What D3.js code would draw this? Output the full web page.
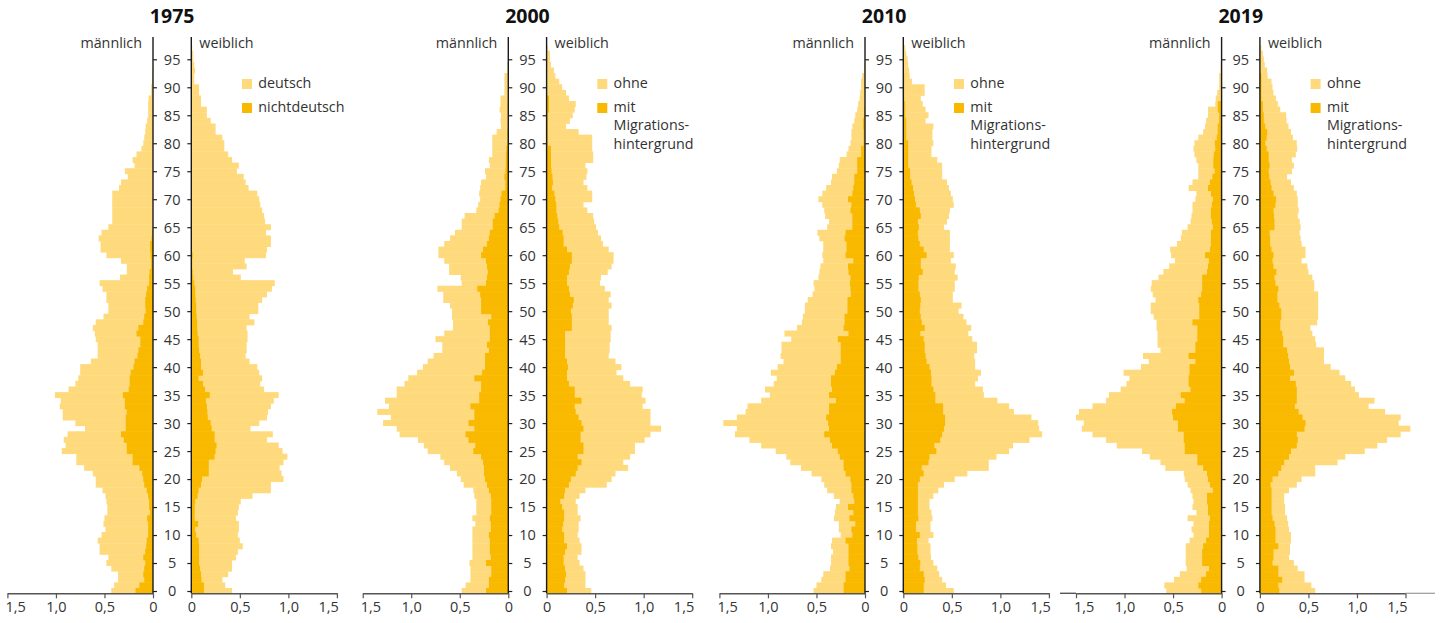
<!DOCTYPE html>
<html><head><meta charset="utf-8">
<script src="https://cdn.jsdelivr.net/npm/d3@7"></script>
<style>
html,body{margin:0;padding:0;background:#fff;}
svg{display:block;font-family:"Open Sans",sans-serif;}
</style></head>
<body>
<svg id="chart" width="1442" height="623"></svg>
<script>
// ---------------- DATA (share of population per age year, in %) ----------------
const years = ["1975", "2000", "2010", "2019"];
const ageTicks = [0,5,10,15,20,25,30,35,40,45,50,55,60,65,70,75,80,85,90,95];
const valueTicks = [0, 0.5, 1.0, 1.5];
const legendLight = ["deutsch", "ohne", "ohne", "ohne"];
const legendDark = [["nichtdeutsch"], ["mit","Migrations-","hintergrund"], ["mit","Migrations-","hintergrund"], ["mit","Migrations-","hintergrund"]];

// index = age (0 ... 97); "Total" = outer edge (both groups), "Dark" = nichtdeutsch / mit Migrationshintergrund
const male1975Total = [0.43,0.40,0.36,0.36,0.43,0.48,0.46,0.55,0.55,0.57, 0.53,0.49,0.51,0.50,0.47,0.47,0.48,0.49,0.52,0.59, 0.59,0.62,0.71,0.79,0.79,0.94,0.90,0.92,0.88,0.70, 0.80,0.93,0.93,0.96,0.95,1.01,0.87,0.80,0.77,0.75, 0.75,0.64,0.57,0.57,0.57,0.59,0.60,0.62,0.59,0.51, 0.46,0.46,0.48,0.48,0.52,0.55,0.34,0.27,0.27,0.33, 0.48,0.54,0.54,0.56,0.53,0.46,0.42,0.42,0.42,0.42, 0.42,0.42,0.35,0.33,0.26,0.29,0.19,0.21,0.17,0.12, 0.10,0.09,0.08,0.075,0.06,0.05,0.05,0.05,0.045,0.02, 0.02,0.01,0.01,0.005];
const male1975Dark = [0.18,0.14,0.09,0.10,0.09,0.08,0.10,0.08,0.07,0.065, 0.05,0.05,0.05,0.06,0.03,0.04,0.04,0.05,0.065,0.09, 0.10,0.11,0.14,0.21,0.21,0.27,0.27,0.30,0.33,0.28, 0.28,0.28,0.27,0.29,0.29,0.31,0.25,0.24,0.24,0.23, 0.20,0.19,0.16,0.15,0.13,0.13,0.17,0.15,0.10,0.09, 0.075,0.08,0.08,0.07,0.06,0.04,0.04,0.035,0.02,0.02, 0.025,0.03,0.03,0.015,0.01];
const female1975Total = [0.42,0.35,0.32,0.38,0.42,0.42,0.46,0.48,0.53,0.50, 0.48,0.49,0.49,0.46,0.48,0.49,0.51,0.63,0.82,0.82, 0.95,0.93,0.91,0.95,0.99,0.94,0.90,0.78,0.84,0.61, 0.70,0.78,0.79,0.82,0.85,0.90,0.75,0.71,0.73,0.70, 0.68,0.60,0.56,0.57,0.57,0.58,0.58,0.57,0.65,0.60, 0.69,0.69,0.73,0.78,0.83,0.86,0.51,0.43,0.57,0.55, 0.77,0.78,0.82,0.82,0.77,0.82,0.76,0.75,0.73,0.71, 0.70,0.68,0.59,0.56,0.54,0.47,0.49,0.42,0.38,0.34, 0.34,0.32,0.25,0.25,0.20,0.16,0.16,0.10,0.10,0.08, 0.08,0.03,0.03,0.04,0.03,0.02,0.02,0.01];
const female1975Dark = [0.13,0.13,0.105,0.10,0.09,0.08,0.08,0.08,0.08,0.075, 0.05,0.04,0.07,0.035,0.035,0.035,0.04,0.065,0.075,0.10, 0.11,0.18,0.18,0.18,0.24,0.25,0.26,0.24,0.24,0.21, 0.20,0.17,0.165,0.16,0.15,0.19,0.14,0.12,0.075,0.12, 0.10,0.10,0.09,0.08,0.075,0.075,0.065,0.06,0.06,0.055, 0.05,0.05,0.045,0.04,0.04,0.03,0.02,0.015,0.01,0.01, 0.015,0.005];

const male2000Total = [0.48,0.44,0.39,0.39,0.39,0.40,0.37,0.37,0.37,0.37, 0.37,0.37,0.34,0.37,0.33,0.33,0.33,0.35,0.36,0.46, 0.49,0.53,0.60,0.66,0.70,0.83,0.87,0.93,1.12,1.15, 1.29,1.21,1.35,1.23,1.27,1.15,1.15,1.07,1.03,0.94, 0.88,0.83,0.77,0.68,0.68,0.75,0.66,0.57,0.57,0.58, 0.58,0.60,0.67,0.67,0.73,0.48,0.49,0.61,0.61,0.66, 0.72,0.72,0.66,0.60,0.55,0.48,0.48,0.45,0.33,0.31, 0.29,0.30,0.29,0.28,0.23,0.24,0.19,0.20,0.165,0.165, 0.165,0.165,0.12,0.075,0.08,0.075,0.09,0.08,0.08,0.04, 0.04,0.04,0.04,0.01,0.01];
const male2000Dark = [0.23,0.20,0.20,0.175,0.175,0.23,0.18,0.19,0.19,0.19, 0.20,0.18,0.18,0.19,0.175,0.175,0.175,0.18,0.20,0.22, 0.24,0.25,0.25,0.26,0.28,0.36,0.34,0.41,0.44,0.35, 0.41,0.35,0.35,0.39,0.30,0.30,0.28,0.28,0.35,0.27, 0.24,0.24,0.24,0.20,0.22,0.19,0.19,0.19,0.21,0.175, 0.28,0.28,0.28,0.29,0.32,0.23,0.22,0.21,0.22,0.23, 0.28,0.26,0.22,0.20,0.19,0.16,0.16,0.14,0.10,0.09, 0.08,0.07,0.03,0.03,0.04,0.03,0.025,0.025,0.025,0.02, 0.01,0.01,0.01,0.005,0.005,0.005,0.005,0.005];
const female2000Total = [0.46,0.40,0.40,0.40,0.38,0.34,0.32,0.36,0.36,0.34, 0.32,0.33,0.33,0.35,0.32,0.32,0.30,0.34,0.40,0.62, 0.67,0.71,0.84,0.79,0.86,0.91,0.91,1.01,1.07,1.18, 1.07,1.07,1.07,0.99,1.02,0.98,0.99,0.86,0.79,0.72, 0.77,0.71,0.64,0.65,0.65,0.66,0.66,0.67,0.64,0.64, 0.64,0.67,0.64,0.66,0.60,0.55,0.56,0.63,0.67,0.69, 0.69,0.64,0.58,0.56,0.53,0.51,0.49,0.48,0.42,0.38, 0.47,0.47,0.42,0.38,0.41,0.42,0.40,0.48,0.48,0.47, 0.47,0.47,0.33,0.20,0.24,0.27,0.29,0.30,0.23,0.20, 0.16,0.13,0.09,0.075,0.045,0.035,0.035,0.01];
const female2000Dark = [0.21,0.18,0.19,0.20,0.19,0.175,0.175,0.19,0.21,0.18, 0.18,0.16,0.17,0.18,0.18,0.16,0.14,0.18,0.19,0.23, 0.25,0.30,0.32,0.36,0.32,0.38,0.38,0.35,0.35,0.38, 0.36,0.33,0.30,0.29,0.36,0.29,0.29,0.23,0.21,0.21, 0.22,0.21,0.19,0.19,0.19,0.19,0.19,0.26,0.26,0.26, 0.25,0.27,0.28,0.24,0.23,0.21,0.21,0.23,0.24,0.26, 0.26,0.21,0.175,0.175,0.165,0.13,0.12,0.11,0.10,0.10, 0.09,0.08,0.055,0.065,0.06,0.05,0.045,0.045,0.045,0.045, 0.015,0.015,0.015,0.015,0.015,0.015,0.025,0.025,0.025];

const male2010Total = [0.53,0.50,0.45,0.43,0.36,0.35,0.35,0.33,0.35,0.34, 0.25,0.27,0.27,0.32,0.31,0.30,0.26,0.32,0.39,0.42, 0.45,0.55,0.66,0.77,0.81,0.92,1.07,1.19,1.34,1.32, 1.46,1.32,1.23,1.21,1.07,0.98,1.03,0.94,0.91,0.97, 0.90,0.84,0.87,0.86,0.86,0.76,0.83,0.70,0.65,0.64, 0.62,0.62,0.59,0.54,0.52,0.53,0.48,0.47,0.46,0.43, 0.44,0.43,0.43,0.47,0.49,0.39,0.37,0.41,0.42,0.44, 0.48,0.44,0.40,0.35,0.34,0.29,0.27,0.26,0.19,0.17, 0.15,0.14,0.14,0.13,0.11,0.10,0.08,0.07,0.055,0.05, 0.04,0.04,0.03,0.01,0.01];
const male2010Dark = [0.22,0.22,0.20,0.20,0.16,0.17,0.17,0.17,0.17,0.20, 0.13,0.14,0.10,0.16,0.12,0.175,0.11,0.12,0.14,0.14, 0.15,0.20,0.22,0.22,0.26,0.28,0.34,0.36,0.42,0.37, 0.38,0.40,0.37,0.37,0.30,0.37,0.34,0.35,0.35,0.31, 0.29,0.25,0.25,0.25,0.25,0.28,0.17,0.22,0.21,0.21, 0.18,0.18,0.18,0.145,0.15,0.155,0.15,0.17,0.175,0.12, 0.20,0.19,0.19,0.21,0.20,0.13,0.13,0.13,0.15,0.14, 0.175,0.13,0.12,0.11,0.11,0.08,0.08,0.08,0.04,0.04, 0.015,0.015,0.015,0.02,0.02,0.01,0.01];
const female2010Total = [0.52,0.44,0.40,0.37,0.35,0.31,0.285,0.28,0.28,0.26, 0.31,0.28,0.28,0.30,0.29,0.27,0.27,0.31,0.36,0.42, 0.53,0.66,0.88,0.88,0.96,1.09,1.13,1.30,1.43,1.40, 1.39,1.32,1.14,1.09,0.97,0.83,0.82,0.74,0.77,0.80, 0.74,0.74,0.73,0.76,0.76,0.71,0.67,0.70,0.65,0.62, 0.57,0.60,0.51,0.51,0.53,0.53,0.56,0.53,0.54,0.49, 0.52,0.48,0.48,0.48,0.48,0.42,0.45,0.47,0.48,0.52, 0.51,0.49,0.47,0.45,0.40,0.40,0.40,0.35,0.29,0.29, 0.31,0.30,0.30,0.31,0.23,0.26,0.23,0.20,0.18,0.22, 0.22,0.09,0.065,0.06,0.05,0.045,0.03,0.02];
const female2010Dark = [0.21,0.21,0.22,0.21,0.17,0.175,0.155,0.145,0.145,0.14, 0.17,0.13,0.13,0.155,0.15,0.15,0.15,0.15,0.15,0.15, 0.17,0.21,0.19,0.26,0.27,0.34,0.32,0.38,0.40,0.42, 0.43,0.43,0.41,0.41,0.33,0.33,0.31,0.29,0.29,0.285, 0.27,0.24,0.23,0.22,0.22,0.21,0.175,0.22,0.19,0.18, 0.17,0.175,0.18,0.17,0.155,0.155,0.16,0.20,0.18,0.18, 0.24,0.21,0.17,0.155,0.15,0.16,0.15,0.18,0.17,0.13, 0.12,0.11,0.10,0.085,0.07,0.07,0.05,0.05,0.05,0.05, 0.05,0.03,0.03,0.03,0.03,0.02,0.02,0.02,0.01,0.01, 0.01,0.01,0.01];

const male2019Total = [0.57,0.59,0.49,0.43,0.36,0.37,0.37,0.37,0.37,0.33, 0.29,0.31,0.29,0.35,0.26,0.30,0.29,0.30,0.32,0.35, 0.38,0.39,0.58,0.63,0.74,0.82,1.08,1.19,1.33,1.44, 1.42,1.50,1.47,1.33,1.19,1.16,1.04,0.98,0.95,1.01, 0.83,0.75,0.81,0.63,0.66,0.66,0.66,0.67,0.67,0.70, 0.73,0.73,0.68,0.71,0.73,0.72,0.65,0.60,0.54,0.48, 0.52,0.53,0.46,0.42,0.41,0.35,0.32,0.31,0.30,0.30, 0.27,0.26,0.34,0.30,0.24,0.24,0.24,0.26,0.28,0.29, 0.28,0.24,0.19,0.17,0.16,0.14,0.14,0.065,0.06,0.045, 0.025,0.025,0.025,0.01,0.01];
const male2019Dark = [0.21,0.24,0.21,0.16,0.13,0.20,0.20,0.20,0.19,0.16, 0.13,0.13,0.13,0.12,0.14,0.14,0.15,0.15,0.09,0.12, 0.14,0.15,0.19,0.25,0.25,0.38,0.38,0.39,0.39,0.45, 0.45,0.50,0.51,0.47,0.38,0.42,0.32,0.34,0.34,0.33, 0.33,0.27,0.34,0.27,0.27,0.25,0.25,0.25,0.30,0.23, 0.23,0.23,0.24,0.21,0.20,0.20,0.20,0.15,0.14,0.13, 0.17,0.12,0.11,0.11,0.11,0.09,0.10,0.11,0.11,0.10, 0.09,0.11,0.14,0.12,0.095,0.07,0.085,0.085,0.08,0.065, 0.07,0.05,0.04,0.04,0.025,0.025,0.04,0.04];
const female2019Total = [0.57,0.53,0.46,0.46,0.39,0.35,0.30,0.31,0.31,0.32, 0.32,0.30,0.29,0.28,0.26,0.26,0.25,0.25,0.30,0.38, 0.43,0.57,0.57,0.80,0.88,1.08,1.21,1.31,1.45,1.55, 1.43,1.45,1.29,1.12,1.18,1.02,0.98,0.94,0.88,0.82, 0.73,0.66,0.66,0.66,0.58,0.57,0.54,0.52,0.59,0.60, 0.60,0.60,0.60,0.60,0.56,0.56,0.54,0.50,0.49,0.43, 0.47,0.47,0.43,0.42,0.41,0.42,0.41,0.39,0.40,0.39, 0.39,0.38,0.35,0.32,0.28,0.33,0.35,0.33,0.37,0.385, 0.38,0.34,0.32,0.295,0.275,0.27,0.21,0.185,0.165,0.14, 0.13,0.12,0.08,0.075,0.05,0.04,0.03,0.015];
const female2019Dark = [0.20,0.19,0.23,0.19,0.19,0.13,0.14,0.14,0.19,0.16, 0.16,0.16,0.15,0.13,0.12,0.12,0.12,0.12,0.12,0.11, 0.13,0.19,0.22,0.25,0.30,0.32,0.38,0.39,0.38,0.46, 0.47,0.44,0.40,0.36,0.38,0.38,0.38,0.37,0.31,0.35, 0.31,0.30,0.29,0.28,0.24,0.24,0.23,0.21,0.21,0.22, 0.22,0.20,0.18,0.18,0.19,0.16,0.15,0.17,0.14,0.13, 0.14,0.12,0.105,0.105,0.10,0.15,0.15,0.145,0.14,0.16, 0.165,0.14,0.12,0.11,0.095,0.09,0.10,0.09,0.09,0.07, 0.055,0.07,0.075,0.055,0.04,0.04,0.03,0.03,0.015,0.015, 0.015,0.015,0.015];

const panels = [
  {year: years[0], mT: male1975Total, mD: male1975Dark, fT: female1975Total, fD: female1975Dark, light: legendLight[0], dark: legendDark[0]},
  {year: years[1], mT: male2000Total, mD: male2000Dark, fT: female2000Total, fD: female2000Dark, light: legendLight[1], dark: legendDark[1]},
  {year: years[2], mT: male2010Total, mD: male2010Dark, fT: female2010Total, fD: female2010Dark, light: legendLight[2], dark: legendDark[2]},
  {year: years[3], mT: male2019Total, mD: male2019Dark, fT: female2019Total, fD: female2019Dark, light: legendLight[3], dark: legendDark[3]}
];

// ---------------- LAYOUT ----------------
const LIGHT = "#FEDA7D", DARK = "#F9B900";
const maleZero = [153, 508.3, 865, 1221.6];
const GAP = 38.3, SPAN = 145.6;
const axisY = 593.3, topY = 37;
const svg = d3.select("#chart");

const yAge = d3.scaleLinear().domain([-0.5, 98.5]).range([593.8, 593.8 - 99 * 5.597]);
const bh = Math.abs(yAge(1) - yAge(0));
const loc = d3.formatLocale({decimal: ",", thousands: ".", grouping: [3], currency: ["", "€"]});
const fmt = d => d === 0 ? "0" : loc.format(".1f")(d);

panels.forEach((p, i) => {
  const m0 = maleZero[i], f0 = m0 + GAP, mid = (m0 + f0) / 2;
  const xM = d3.scaleLinear().domain([0, 1.5]).range([m0, m0 - SPAN]);
  const xF = d3.scaleLinear().domain([0, 1.5]).range([f0, f0 + SPAN]);
  const g = svg.append("g");

  const rows = (arr) => arr.map((v, a) => ({a, v})).filter(d => d.v > 0);
  g.selectAll(null).data(rows(p.mT)).join("rect")
    .attr("x", d => xM(d.v)).attr("width", d => m0 - xM(d.v))
    .attr("y", d => yAge(d.a + 0.5) - 0.2).attr("height", bh + 0.4).attr("fill", LIGHT);
  g.selectAll(null).data(rows(p.mD)).join("rect")
    .attr("x", d => xM(d.v)).attr("width", d => m0 - xM(d.v))
    .attr("y", d => yAge(d.a + 0.5) - 0.2).attr("height", bh + 0.4).attr("fill", DARK);
  g.selectAll(null).data(rows(p.fT)).join("rect")
    .attr("x", f0).attr("width", d => xF(d.v) - f0)
    .attr("y", d => yAge(d.a + 0.5) - 0.2).attr("height", bh + 0.4).attr("fill", LIGHT);
  g.selectAll(null).data(rows(p.fD)).join("rect")
    .attr("x", f0).attr("width", d => xF(d.v) - f0)
    .attr("y", d => yAge(d.a + 0.5) - 0.2).attr("height", bh + 0.4).attr("fill", DARK);

  // bottom axes
  const bm = g.append("g").attr("transform", `translate(0,${axisY})`)
    .call(d3.axisBottom(xM).tickValues(valueTicks).tickFormat(fmt).tickSize(5).tickSizeOuter(0).tickPadding(3));
  const bf = g.append("g").attr("transform", `translate(0,${axisY})`)
    .call(d3.axisBottom(xF).tickValues(valueTicks).tickFormat(fmt).tickSize(5).tickSizeOuter(0).tickPadding(3));
  [bm, bf].forEach(ax => {
    ax.select(".domain").attr("stroke", "#555").attr("stroke-width", 1.4);
    ax.selectAll(".tick line").attr("stroke", "#555").attr("stroke-width", 1.2);
    ax.selectAll(".tick text").attr("font-size", 14.5).attr("fill", "#333").attr("font-family", '"Open Sans",sans-serif');
  });
  // outermost labels kept inside the axis span
  bm.selectAll(".tick").filter(d => d === 1.5).select("text").attr("text-anchor", "start").attr("x", -2.5);
  bf.selectAll(".tick").filter(d => d === 1.5).select("text").attr("text-anchor", "end").attr("x", 1.5);
  if (i === 3) {
    g.append("line").attr("x1", 1060).attr("x2", m0 - SPAN).attr("y1", axisY).attr("y2", axisY).attr("stroke", "#555").attr("stroke-width", 1.4);
    g.append("line").attr("x1", f0 + SPAN).attr("x2", 1435).attr("y1", axisY).attr("y2", axisY).attr("stroke", "#999").attr("stroke-width", 1.2);
  }

  // vertical age axes
  const ageM = g.append("g").attr("transform", `translate(${m0},0)`)
    .call(d3.axisRight(yAge).tickValues(ageTicks).tickSize(4).tickSizeOuter(0).tickFormat(""));
  const ageF = g.append("g").attr("transform", `translate(${f0},0)`)
    .call(d3.axisLeft(yAge).tickValues(ageTicks).tickSize(4).tickSizeOuter(0));
  [ageM, ageF].forEach(ax => {
    ax.select(".domain").remove();
    ax.selectAll(".tick line").attr("stroke", "#222").attr("stroke-width", 1.2);
  });
  ageF.selectAll(".tick text").attr("x", mid - f0).attr("text-anchor", "middle").attr("dy", "0.34em")
    .attr("font-size", 14.5).attr("fill", "#333").attr("font-family", '"Open Sans",sans-serif');
  g.append("line").attr("x1", m0).attr("x2", m0).attr("y1", topY).attr("y2", axisY).attr("stroke", "#1a1a1a").attr("stroke-width", 1.4);
  g.append("line").attr("x1", f0).attr("x2", f0).attr("y1", topY).attr("y2", axisY).attr("stroke", "#1a1a1a").attr("stroke-width", 1.4);

  // titles
  g.append("text").attr("x", mid).attr("y", 23).attr("text-anchor", "middle")
    .attr("font-size", 19.5).attr("font-weight", 700).attr("fill", "#111").text(p.year);
  g.append("text").attr("x", m0 - 11).attr("y", 48).attr("text-anchor", "end")
    .attr("font-size", 14.3).attr("fill", "#333").text("männlich");
  g.append("text").attr("x", f0 + 8).attr("y", 48)
    .attr("font-size", 14.3).attr("fill", "#333").text("weiblich");

  // legend
  const lx = f0 + 50.7;
  g.append("rect").attr("x", lx).attr("y", 79).attr("width", 10).attr("height", 10).attr("fill", LIGHT);
  g.append("text").attr("x", f0 + 67).attr("y", 87.5).attr("font-size", 14.3).attr("fill", "#333").text(p.light);
  g.append("rect").attr("x", lx).attr("y", 103).attr("width", 10).attr("height", 10).attr("fill", DARK);
  p.dark.forEach((t, k) => {
    g.append("text").attr("x", f0 + 67).attr("y", 111.5 + k * 18.8).attr("font-size", 14.3).attr("fill", "#333").text(t);
  });
});
</script>
</body></html>
